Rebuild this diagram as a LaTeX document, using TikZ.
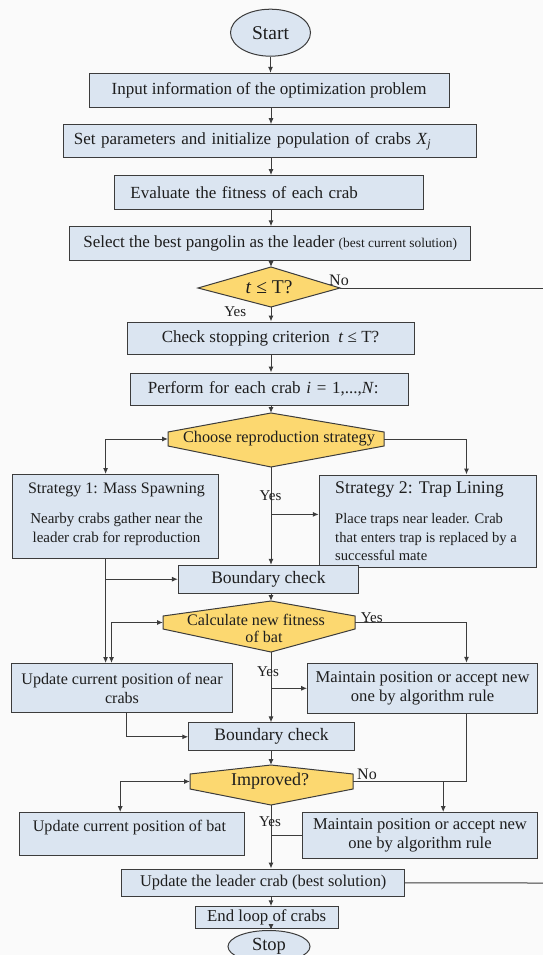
\documentclass[tikz,border=0pt]{standalone}
\usepackage{fontspec}
\setmainfont{Liberation Serif}
\usetikzlibrary{arrows.meta,shapes.geometric}

\definecolor{boxfill}{RGB}{219,229,241}
\definecolor{decfill}{RGB}{252,216,112}
\definecolor{edge}{RGB}{60,60,60}
\definecolor{ink}{RGB}{30,30,30}
\definecolor{paper}{RGB}{250,250,250}

\tikzset{
  box/.style={draw=edge, fill=boxfill, line width=1pt, inner sep=0pt, text=ink, align=center},
  term/.style={ellipse, draw=edge, fill=boxfill, line width=1pt, inner sep=0pt, text=ink},
  dec/.style={draw=edge, fill=decfill, line width=1pt, line join=miter},
  lbl/.style={text=ink, inner sep=0pt},
  tip/.tip={Latex[length=6pt,width=5pt]},
  flow/.style={draw=edge, line width=1pt, -tip},
  link/.style={draw=edge, line width=1pt},
  both/.style={draw=edge, line width=1pt, tip-tip},
  f15/.style={font=\fontsize{15}{18}\selectfont},
  f16/.style={font=\fontsize{16}{19}\selectfont},
  f17/.style={font=\fontsize{17}{20}\selectfont},
  f18/.style={font=\fontsize{18}{21}\selectfont},
  f19/.style={font=\fontsize{19.5}{22}\selectfont}
}

\begin{document}
\begin{tikzpicture}[x=1pt,y=-1pt]
\fill[paper] (0,0) rectangle (543,955);
\useasboundingbox (0,0) rectangle (543,955);

% spine of the main flow and vertical rails of the side branches
\coordinate (sp) at (271,0);
\coordinate (xA) at (105.6,0);
\coordinate (xB) at (466.5,0);
\coordinate (xC) at (111.5,0);
\coordinate (xD) at (126.4,0);
\coordinate (xE) at (443.2,0);
\coordinate (xF) at (120.2,0);
\coordinate (yS2) at (0,514.4);
\coordinate (noEnd) at (543,288);
\coordinate (loopEnd) at (543,883);

% decision shapes
\draw[dec] (198,288) -- (271,267) -- (340,288) -- (271,307) -- cycle;
\coordinate (dT) at (271,267);
\coordinate (dB) at (271,307);
\coordinate (dE) at (340,288);

\draw[dec] (168,432) -- (271,413) -- (384,432) -- (384,446) -- (271,467) -- (168,446) -- cycle;
\coordinate (chN) at (271,413);
\coordinate (chW) at (168,439);
\coordinate (chE) at (384,439);
\coordinate (chS) at (271,467);

\draw[dec] (163,616) -- (271,601) -- (355,616) -- (355,629) -- (271,652) -- (163,629) -- cycle;
\coordinate (caN) at (271,601);
\coordinate (caW) at (163,622.5);
\coordinate (caE) at (355,622.5);
\coordinate (caS) at (271,652);

\draw[dec] (190,774) -- (271,765) -- (353,774) -- (353,789) -- (271,805) -- (190,789) -- cycle;
\coordinate (imN) at (271,765);
\coordinate (imW) at (190,781.5);
\coordinate (imE) at (353,781.5);
\coordinate (imS) at (271,805);

% texts of the decisions
\node[lbl, f19] (dtxt) at (269,287) {\textit{t} ≤ T?};
\node[lbl, font=\fontsize{16.3}{19}\selectfont] (chT) at (279,438.5) {Choose reproduction strategy};
\node[lbl, font=\fontsize{16.1}{19}\selectfont] (caA) at (256,620) {Calculate new fitness};
\node[lbl, font=\fontsize{16.1}{19}\selectfont] (caB) at (264,637) {of bat};
\node[lbl, f18] (imT) at (270,781) {Improved?};

% process boxes
\node[term, minimum width=80pt, minimum height=47pt, f19] (start) at (270.5,32.7) {Start};
\node[box, minimum width=360pt, minimum height=34.6pt, f17] (input) at (269.2,90.7) {Input information of the optimization problem};
\node[box, minimum height=32.8pt, text width=393pt, inner xsep=10pt, align=left, f17] (set) at (270.3,141.1) {Set parameters and initialize population of crabs \textit{X}\textsubscript{\textit{j}}};
\node[box, minimum height=34pt, text width=277pt, inner xsep=16pt, align=left, f17] (eval) at (268.9,192.6) {Evaluate the fitness of each crab};
\node[box, minimum width=401pt, minimum height=34pt, f17] (select) at (270.2,243.8) {Select the best pangolin as the leader {\fontsize{13.4}{15}\selectfont(best current solution)}};
\node[box, minimum width=287pt, minimum height=32.6pt, f17] (check) at (270.5,338.3) {Check stopping criterion \ \textit{t} ≤ T?};
\node[box, minimum height=32pt, text width=244pt, inner xsep=17pt, align=left, f17] (perform) at (269.8,389) {Perform for each crab \textit{i} = 1,...,\textit{N}:};

\node[box, minimum width=206pt, minimum height=84pt] (s1) at (115.8,516.5) {};
\node[lbl, f16] (s1t) at (116.5,490) {Strategy 1: Mass Spawning};
\node[lbl, align=center, font=\fontsize{15}{19}\selectfont] (s1b) at (116.5,529) {Nearby crabs gather near the\\leader crab for reproduction};

\node[box, minimum width=217.4pt, minimum height=92.4pt] (s2) at (428,521.2) {};
\node[lbl, anchor=west, font=\fontsize{17.8}{21}\selectfont] (s2t) at (335,490) {Strategy 2: Trap Lining};
\node[lbl, anchor=west, align=left, font=\fontsize{14.6}{18}\selectfont] (s2b) at (335,537) {Place traps near leader. Crab\\that enters trap is replaced by a\\successful mate};

\node[box, minimum width=180pt, minimum height=27.7pt, font=\fontsize{17.5}{20}\selectfont] (b1) at (268.4,579.2) {Boundary check};

\node[box, minimum width=221pt, minimum height=49pt, font=\fontsize{16.1}{19}\selectfont] (nearU) at (122,688) {Update current position of near\\crabs};
\node[box, minimum width=230pt, minimum height=50pt, font=\fontsize{16.6}{19}\selectfont] (m1) at (422.6,688.3) {Maintain position or accept new\\one by algorithm rule};

\node[box, minimum width=165.5pt, minimum height=27.7pt, font=\fontsize{17.5}{20}\selectfont] (b2) at (271.5,736.8) {Boundary check};

\node[box, minimum width=225pt, minimum height=42.6pt] (bat) at (132.1,833.9) {};
\node[lbl, font=\fontsize{16.1}{19}\selectfont] (batT) at (129.4,827.5) {Update current position of bat};
\node[box, minimum width=235.4pt, minimum height=46pt, font=\fontsize{16.6}{19}\selectfont] (m2) at (420,835.6) {Maintain position or accept new\\one by algorithm rule};

\node[box, minimum width=282.5pt, minimum height=27.8pt, font=\fontsize{16.4}{19}\selectfont] (leader) at (263.2,882.9) {Update the leader crab (best solution)};
\node[box, minimum width=143.3pt, minimum height=21.5pt, font=\fontsize{16.8}{19}\selectfont] (endl) at (266.7,917.5) {End loop of crabs};
\node[term, minimum width=82pt, minimum height=32pt, font=\fontsize{18.5}{21}\selectfont] (stop) at (269,946.5) {Stop};

% connectors
\draw[flow] (start.south) -- (start.south |- input.north);
\draw[flow] (sp |- input.south) -- (sp |- set.north);
\draw[flow] (sp |- set.south) -- (sp |- eval.north);
\draw[flow] (sp |- eval.south) -- (sp |- select.north);
\draw[flow] (sp |- select.south) -- (dT);
\draw[flow] (dB) -- (sp |- check.north);
\draw[link] (dE) -- (noEnd);
\draw[flow] (sp |- check.south) -- (sp |- perform.north);
\draw[flow] (sp |- perform.south) -- (chN);

\draw[both] (chW) -| (xA |- s1.north);
\draw[flow] (chE) -| (xB |- s2.north);
\draw[flow] (chS) -- (sp |- b1.north);
\draw[flow] (sp |- yS2) -- (s2.west |- yS2);
\draw[flow] (xA |- s1.south) -- (xA |- nearU.north);
\draw[flow] (xA |- b1.west) -- (b1.west);

\draw[flow] (sp |- b1.south) -- (caN);
\draw[both] (caW) -| (xC |- nearU.north);
\draw[flow] (caE) -| (xB |- m1.north);
\draw[flow] (caS) -- (sp |- b2.north);
\draw[flow] (sp |- m1.west) -- (m1.west);
\draw[flow] (xD |- nearU.south) |- (b2.west);

\draw[flow] (sp |- b2.south) -- (imN);
\draw[link] (xB |- m1.south) |- (imE);
\draw[flow] (xE |- imE) -- (xE |- m2.north);
\draw[both] (imW) -| (xF |- bat.north);
\draw[flow] (imS) -- (sp |- leader.north);
\draw[link] (m2.west) -- (sp |- m2.west);
\draw[link] (leader.east) -- (loopEnd);
\draw[flow] (sp |- leader.south) -- (sp |- endl.north);
\draw[flow] (sp |- endl.south) -- (sp |- stop.north);

% branch labels
\node[lbl, f15] (y1) at (235.3,312) {Yes};
\node[lbl, f16] (n1) at (339,280.5) {No};
\node[lbl, f15] (y2) at (270.5,495.4) {Yes};
\node[lbl, f15] (y3) at (371.8,618) {Yes};
\node[lbl, f15] (y4) at (268,672) {Yes};
\node[lbl, f16] (n2) at (367,774) {No};
\node[lbl, f15] (y5) at (270,822) {Yes};
\end{tikzpicture}
\end{document}
